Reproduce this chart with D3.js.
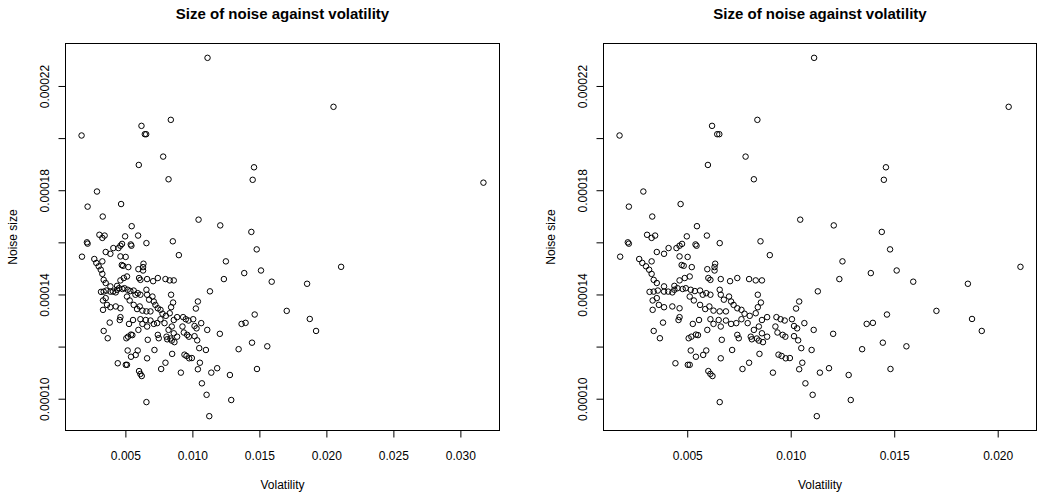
<!DOCTYPE html>
<html>
<head>
<meta charset="utf-8">
<script src="https://cdn.jsdelivr.net/npm/d3@7"></script>
<style>
  html, body { margin: 0; padding: 0; background: #ffffff; }
  svg { display: block; }
  text { font-family: "Liberation Sans", Arial, Helvetica, sans-serif; fill: #000; }
</style>
</head>
<body>
<svg id="chart" width="1037" height="497"></svg>
<script>
// ---------- data ----------
const volatility = [
  0.01113, 0.02053, 0.00839, 0.00620, 0.00645, 0.00655, 0.00173, 0.00782, 0.00600, 0.01460,
  0.00822, 0.01450, 0.03172, 0.00288, 0.00218, 0.00468, 0.00331, 0.01046, 0.01208, 0.00547,
  0.01440, 0.01480, 0.02110, 0.01512, 0.01387, 0.01592, 0.01856, 0.01704, 0.01465, 0.01876,
  0.01367, 0.01397, 0.01923, 0.01445, 0.01559, 0.01482,
  0.00306, 0.00345, 0.00328, 0.00498, 0.00595, 0.00657, 0.00854, 0.00213, 0.00218, 0.00176,
  0.00268, 0.00283, 0.00353, 0.00388, 0.00410, 0.00448, 0.00463, 0.00475, 0.00540, 0.00545,
  0.00463, 0.00502, 0.00328, 0.00301, 0.00316, 0.00328, 0.00338, 0.00353, 0.00388, 0.00438,
  0.00463, 0.00488, 0.00512, 0.00522, 0.00473, 0.00483, 0.00635, 0.00632, 0.00632, 0.00597,
  0.00602, 0.00612, 0.00662, 0.00707, 0.00742, 0.00799, 0.00831, 0.00861, 0.00899, 0.01250,
  0.01235, 0.01131, 0.00318, 0.00338, 0.00358, 0.00388, 0.00408, 0.00428, 0.00438, 0.00453,
  0.00478, 0.00493, 0.00517, 0.00537, 0.00562, 0.00575, 0.00592, 0.00612, 0.00657, 0.00662,
  0.00677, 0.00702, 0.00712, 0.00724, 0.00742, 0.00762, 0.00777, 0.00802, 0.00841, 0.00856,
  0.00841, 0.00831, 0.00861, 0.00886, 0.01041, 0.01026, 0.00333, 0.00353, 0.00363, 0.00333,
  0.00388, 0.00428, 0.00463, 0.00512, 0.00532, 0.00562, 0.00587, 0.00607, 0.00627, 0.00657,
  0.00687, 0.00557, 0.00463, 0.00458, 0.00527, 0.00612, 0.00627, 0.00652, 0.00662, 0.00687,
  0.00712, 0.00737, 0.00762, 0.00792, 0.00822, 0.00846, 0.00861, 0.00886, 0.00931, 0.00951,
  0.00971, 0.01006, 0.01016, 0.01031, 0.01066, 0.01111, 0.01205,
  0.00926, 0.00936, 0.00961, 0.00974, 0.01016, 0.01036, 0.01051, 0.01101,
  0.00338, 0.00368, 0.00383, 0.00507, 0.00520, 0.00542, 0.00552, 0.00597, 0.00742, 0.00749,
  0.00807, 0.00812, 0.00836, 0.00846, 0.00866, 0.00667, 0.00517, 0.00542, 0.00577, 0.00592,
  0.00662, 0.00717, 0.00849, 0.00941, 0.00956, 0.00976, 0.00996, 0.01056, 0.00443, 0.00503,
  0.00512, 0.00602, 0.00612, 0.00622, 0.00767, 0.00799, 0.00914, 0.01041, 0.01071, 0.01141,
  0.01185, 0.01280, 0.01106, 0.00657, 0.01290, 0.01126, 0.01345
];
const noiseSize = [
  0.0002308, 0.0002120, 0.0002070, 0.0002047, 0.0002015, 0.0002015, 0.0002010, 0.0001929, 0.0001897, 0.0001888,
  0.0001842, 0.0001840, 0.0001829, 0.0001795, 0.0001737, 0.0001747, 0.0001699, 0.0001687, 0.0001665, 0.0001662,
  0.0001640, 0.0001573, 0.0001506, 0.0001492, 0.0001482, 0.0001449, 0.0001441, 0.0001337, 0.0001323, 0.0001306,
  0.0001287, 0.0001291, 0.0001260, 0.0001215, 0.0001201, 0.0001114,
  0.0001629, 0.0001626, 0.0001617, 0.0001623, 0.0001626, 0.0001597, 0.0001604, 0.0001600, 0.0001595, 0.0001545,
  0.0001536, 0.0001521, 0.0001563, 0.0001556, 0.0001578, 0.0001578, 0.0001587, 0.0001594, 0.0001592, 0.0001587,
  0.0001546, 0.0001544, 0.0001527, 0.0001508, 0.0001495, 0.0001479, 0.0001456, 0.0001444, 0.0001431, 0.0001433,
  0.0001454, 0.0001463, 0.0001469, 0.0001505, 0.0001513, 0.0001510, 0.0001518, 0.0001505, 0.0001492, 0.0001497,
  0.0001463, 0.0001456, 0.0001459, 0.0001451, 0.0001463, 0.0001459, 0.0001454, 0.0001454, 0.0001551, 0.0001527,
  0.0001459, 0.0001412, 0.0001410, 0.0001411, 0.0001415, 0.0001411, 0.0001411, 0.0001408, 0.0001418, 0.0001424,
  0.0001421, 0.0001424, 0.0001418, 0.0001413, 0.0001415, 0.0001399, 0.0001405, 0.0001399, 0.0001418, 0.0001399,
  0.0001380, 0.0001392, 0.0001373, 0.0001360, 0.0001347, 0.0001341, 0.0001326, 0.0001318, 0.0001399, 0.0001369,
  0.0001351, 0.0001328, 0.0001302, 0.0001313, 0.0001373, 0.0001346, 0.0001377, 0.0001386, 0.0001360, 0.0001341,
  0.0001351, 0.0001354, 0.0001347, 0.0001392, 0.0001377, 0.0001360, 0.0001344, 0.0001354, 0.0001338, 0.0001335,
  0.0001335, 0.0001302, 0.0001313, 0.0001302, 0.0001287, 0.0001305, 0.0001287, 0.0001302, 0.0001277, 0.0001300,
  0.0001287, 0.0001290, 0.0001305, 0.0001290, 0.0001264, 0.0001277, 0.0001251, 0.0001238, 0.0001313, 0.0001305,
  0.0001300, 0.0001305, 0.0001279, 0.0001270, 0.0001290, 0.0001264, 0.0001249,
  0.0001277, 0.0001254, 0.0001245, 0.0001238, 0.0001240, 0.0001224, 0.0001194, 0.0001187,
  0.0001260, 0.0001232, 0.0001292, 0.0001232, 0.0001238, 0.0001246, 0.0001244, 0.0001264, 0.0001245, 0.0001232,
  0.0001238, 0.0001228, 0.0001231, 0.0001223, 0.0001217, 0.0001226, 0.0001185, 0.0001161, 0.0001168, 0.0001185,
  0.0001155, 0.0001187, 0.0001172, 0.0001169, 0.0001164, 0.0001155, 0.0001156, 0.0001138, 0.0001136, 0.0001130,
  0.0001130, 0.0001106, 0.0001095, 0.0001087, 0.0001114, 0.0001138, 0.0001100, 0.0001113, 0.0001059, 0.0001100,
  0.0001117, 0.0001091, 0.0001015, 0.0000987, 0.0000995, 0.0000933, 0.0001190
];
const chartTitle = "Size of noise against volatility";
const xLabel = "Volatility";
const yLabel = "Noise size";
const xTicksLeft = [0.005, 0.010, 0.015, 0.020, 0.025, 0.030];
const xTicksRight = [0.005, 0.010, 0.015, 0.020];
const yTicks = [0.00010, 0.00012, 0.00014, 0.00016, 0.00018, 0.00020, 0.00022];
const yTickLabels = [0.00010, 0.00014, 0.00018, 0.00022];
const rightPanelMaxX = 0.03;

// ---------- drawing ----------
const points = volatility.map((v, i) => ({ x: v, y: noiseSize[i] }));
const svg = d3.select("#chart");

function rExtent(vals) {
  const [lo, hi] = d3.extent(vals);
  const pad = (hi - lo) * 0.04;
  return [lo - pad, hi + pad];
}

function panel(data, xTicks, box) {
  const g = svg.append("g");
  const x = d3.scaleLinear().domain(rExtent(data.map(d => d.x))).range([box.left, box.right]);
  const y = d3.scaleLinear().domain(rExtent(data.map(d => d.y))).range([box.bottom, box.top]);

  // points
  g.append("g").selectAll("circle").data(data).join("circle")
    .attr("cx", d => x(d.x)).attr("cy", d => y(d.y)).attr("r", 2.75)
    .attr("fill", "none").attr("stroke", "#000").attr("stroke-width", 1);

  // x axis
  const xa = g.append("g").attr("transform", `translate(0,${box.bottom})`)
    .call(d3.axisBottom(x).tickValues(xTicks).tickSize(7).tickSizeOuter(0).tickFormat(d3.format(".3f")));
  xa.select(".domain").remove();
  xa.selectAll(".tick line").attr("stroke", "#000").attr("stroke-width", 1);
  xa.selectAll(".tick text").attr("y", 0).attr("dy", null)
    .attr("transform", "translate(0,29)")
    .style("font-size", "12px").style("font-family", '"Liberation Sans", Arial, sans-serif').attr("fill", "#000");
  g.append("line").attr("x1", x(xTicks[0])).attr("x2", x(xTicks[xTicks.length - 1]))
    .attr("y1", box.bottom).attr("y2", box.bottom).attr("stroke", "#000");

  // y axis
  const ya = g.append("g").attr("transform", `translate(${box.left},0)`)
    .call(d3.axisLeft(y).tickValues(yTicks).tickSize(7).tickSizeOuter(0)
      .tickFormat(d => yTickLabels.some(v => Math.abs(v - d) < 1e-9) ? d3.format(".5f")(d) : ""));
  ya.select(".domain").remove();
  ya.selectAll(".tick line").attr("stroke", "#000").attr("stroke-width", 1);
  ya.selectAll(".tick text").attr("x", null).attr("dy", null).attr("y", 0)
    .attr("text-anchor", "middle")
    .attr("transform", "translate(-16.3,0) rotate(-90)")
    .style("font-size", "12px").style("font-family", '"Liberation Sans", Arial, sans-serif').attr("fill", "#000");

  // box
  g.append("rect").attr("x", box.left).attr("y", box.top)
    .attr("width", box.right - box.left).attr("height", box.bottom - box.top)
    .attr("fill", "none").attr("stroke", "#000").attr("stroke-width", 1);

  const cx = (box.left + box.right) / 2;
  const cy = (box.top + box.bottom) / 2;
  g.append("text").attr("x", cx).attr("y", 18.5).attr("text-anchor", "middle")
    .style("font-size", "15px").style("font-weight", "bold").text(chartTitle);
  g.append("text").attr("x", cx).attr("y", 489).attr("text-anchor", "middle")
    .style("font-size", "12px").text(xLabel);
  g.append("text").attr("text-anchor", "middle")
    .attr("transform", `translate(${box.left - 49},${cy}) rotate(-90)`)
    .style("font-size", "12px").text(yLabel);
}

panel(points, xTicksLeft, { left: 65.5, right: 499.5, top: 43.5, bottom: 430.5 });
panel(points.filter(d => d.x < rightPanelMaxX), xTicksRight, { left: 603.5, right: 1036.5, top: 43.5, bottom: 430.5 });
</script>
</body>
</html>
